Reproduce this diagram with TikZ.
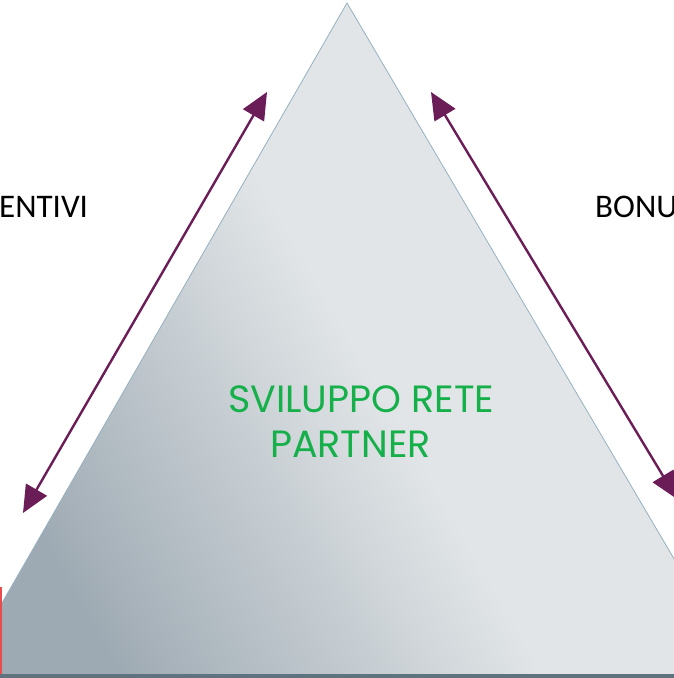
\documentclass[tikz,border=0pt]{standalone}
\usepackage{fontspec}
\setmainfont{Carlito}
\newfontfamily\titlefont{Poppins}
\usetikzlibrary{arrows.meta}
\definecolor{arrowplum}{HTML}{6B1D57}
\definecolor{titlegreen}{HTML}{16B04B}
\definecolor{baseslate}{HTML}{5E737E}
\definecolor{shadedark}{RGB}{158,170,179}
\definecolor{shadelight}{RGB}{225,229,231}
\definecolor{edgeblue}{RGB}{150,176,192}
\definecolor{stripred}{RGB}{232,76,76}
\begin{document}
\begin{tikzpicture}
[x=1pt,y=-1pt,
  arrowdecorate/.style={{Triangle[length=27pt,width=24pt]}-{Triangle[length=27pt,width=24pt]},line width=2.4pt,draw=arrowplum,fill=arrowplum},%
  labeldecorate/.style={anchor=base west,inner sep=0pt,font=\fontsize{33}{36}\selectfont},%
  titledecorate/.style={anchor=base west,inner sep=0pt,text=titlegreen,font=\titlefont\fontsize{38}{40}\selectfont}]
\useasboundingbox (0,0) rectangle (674,678);
\clip (0,0) rectangle (674,678);
%% pyramid
\coordinate (apex) at (347,3);
\coordinate (baseleft) at (-40,676);
\coordinate (baseright) at (743,676);
\shade[left color=shadedark,right color=shadelight,middle color=shadelight,shading angle=120]
  (apex) -- (baseright) -- (baseleft) -- cycle;
\draw[edgeblue,line width=0.8pt] (baseleft) -- (apex) -- (baseright);
\fill[baseslate] (0,674) rectangle (674,678);
\fill[stripred] (0,587) rectangle (2,674);
%% arrows
\foreach \startname/\sx/\sy/\endname/\ex/\ey in {
  lefttop/267/92/leftbottom/23/513, righttop/431/92/rightbottom/677/499}
{
  \coordinate (\startname) at (\sx,\sy);
  \coordinate (\endname) at (\ex,\ey);
  \draw[arrowdecorate] (\startname) -- (\endname);
}
%% labels
\node (incentivi) at (-1,217) [labeldecorate] {ENTIVI};
\node (bonus) at (595,217) [labeldecorate] {BONU};
\node (title1) at (228,412) [titledecorate] {SVILUPPO RETE};
\node (title2) at (270,457) [titledecorate] {PARTNER};
\end{tikzpicture}
\end{document}
